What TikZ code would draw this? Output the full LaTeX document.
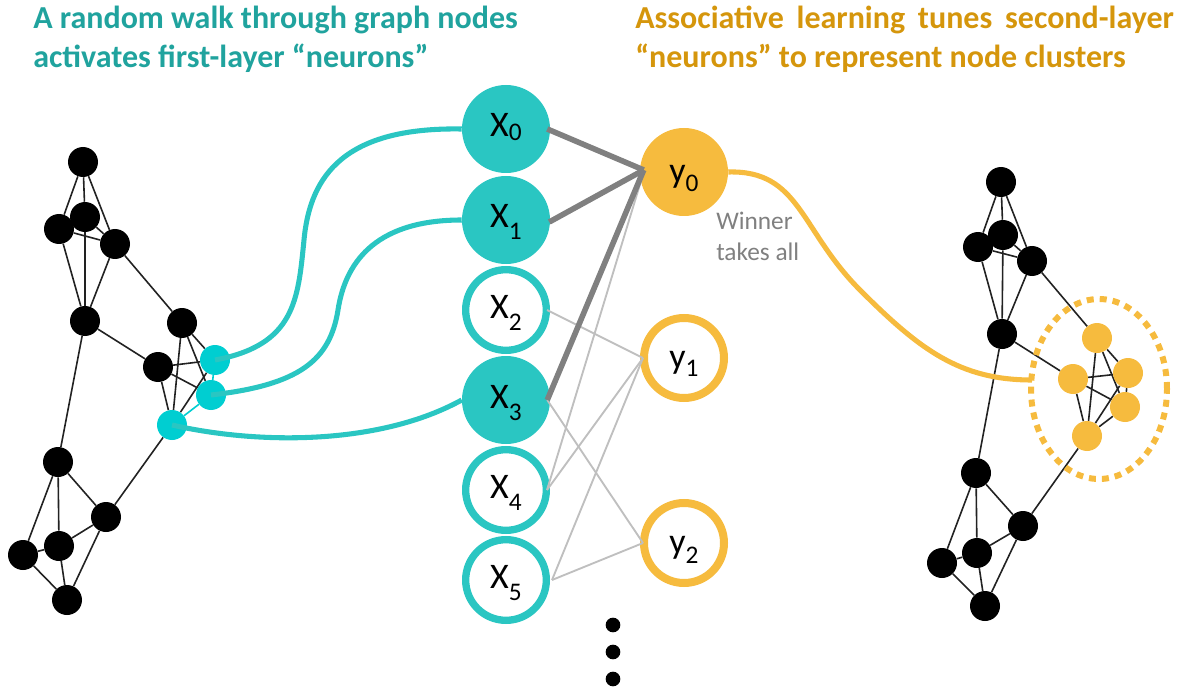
\documentclass[tikz,border=0pt]{standalone}
\usepackage{fontspec}
\setmainfont{Carlito}
\usetikzlibrary{calc}
\pgfdeclarelayer{bg}
\pgfsetlayers{bg,main}
\definecolor{tealT}{RGB}{32,163,158}
\definecolor{orangeT}{RGB}{213,150,12}
\definecolor{xfill}{RGB}{42,198,194}
\definecolor{cyanN}{RGB}{0,206,209}
\definecolor{ornN}{RGB}{246,187,62}
\definecolor{thickG}{RGB}{128,128,128}
\definecolor{thinG}{RGB}{191,191,191}
\definecolor{edgeK}{RGB}{34,34,34}
\newcommand\sbs[2]{\raisebox{-#1}{\fontsize{19}{19}\selectfont #2}}
\begin{document}
\begin{tikzpicture}[x=0.75pt,y=-0.75pt,
  gnode/.style={circle,fill=black,minimum size=22.5pt,inner sep=0pt},
  cnode/.style={gnode,fill=cyanN},
  onode/.style={gnode,fill=ornN},
  gedge/.style={draw=edgeK,line width=1.2pt},
  cedge/.style={draw=cyanN,line width=1.2pt},
  bigfont/.style={font=\fontsize{27}{27}\selectfont},
  xon/.style={circle,fill=xfill,minimum size=66pt,inner sep=0pt,bigfont,text height=17pt,text depth=5pt},
  xoff/.style={circle,draw=xfill,fill=white,line width=5.5pt,minimum size=60.5pt,inner sep=0pt,bigfont,text height=17pt,text depth=5pt},
  yon/.style={circle,fill=ornN,minimum size=66pt,inner sep=0pt,bigfont,text height=20pt,text depth=4pt},
  yoff/.style={circle,draw=ornN,fill=white,line width=6pt,minimum size=60pt,inner sep=0pt,bigfont,text height=20pt,text depth=4pt},
  thickw/.style={draw=thickG,line width=4.2pt},
  thinw/.style={draw=thinG,line width=1.4pt},
  ccurve/.style={draw=xfill,line width=3.8pt},
  ocurve/.style={draw=ornN,line width=3.8pt},
  dotn/.style={circle,fill=black,minimum size=11pt,inner sep=0pt},
  ttl/.style={anchor=base west,align=left,inner sep=0pt,font=\fontsize{24}{29.25}\selectfont\bfseries}
]
\useasboundingbox (0,0) rectangle (1182,688);

% titles (base anchor = last line)
\node[ttl,text=tealT] (t1) at (33,68) {A random walk through graph nodes\\activates first-layer “neurons”};
\node[ttl,text=orangeT] (t2) at (635,68) {\makebox[404pt][s]{Associative learning tunes second-layer}\\“neurons” to represent node clusters};

% left graph
\node[gnode] (L1) at (83,162) {};
\node[gnode] (L3) at (59,229) {};
\node[gnode] (L2) at (85,217) {};
\node[gnode] (L4) at (115,244) {};
\node[gnode] (L5) at (85,321) {};
\node[gnode] (L6) at (182,323) {};
\node[gnode] (L7) at (158,367) {};
\node[cnode] (L8) at (215,360) {};
\node[cnode] (L9) at (211,395) {};
\node[cnode] (L10) at (172,425) {};
\node[gnode] (L11) at (58,462) {};
\node[gnode] (L12) at (106,517) {};
\node[gnode] (L13) at (59,546) {};
\node[gnode] (L14) at (23,555) {};
\node[gnode] (L15) at (67,600) {};

% right graph
\node[gnode] (R1) at (1001,182) {};
\node[gnode] (R3) at (978,247) {};
\node[gnode] (R2) at (1003,235) {};
\node[gnode] (R4) at (1032,261) {};
\node[gnode] (R5) at (1002,334) {};
\node[onode] (R6) at (1097,338) {};
\node[onode] (R7) at (1073,379) {};
\node[onode] (R8) at (1128,373) {};
\node[onode] (R9) at (1125,407) {};
\node[onode] (R10) at (1087,436) {};
\node[gnode] (R11) at (976,473) {};
\node[gnode] (R12) at (1023,526) {};
\node[gnode] (R13) at (977,553) {};
\node[gnode] (R14) at (942,563) {};
\node[gnode] (R15) at (985,606) {};

\begin{pgfonlayer}{bg}
\foreach \a/\b in {1/3,1/2,1/4,2/4,3/4,3/5,2/5,4/5,4/6,5/7,5/11,6/10,6/9,6/8,7/8,7/9,7/10,10/8,10/12,11/12,11/13,11/14,12/13,12/15,13/14,13/15,14/15}{
  \draw[gedge] (L\a) -- (L\b);
  \draw[gedge] (R\a) -- (R\b);
}
\draw[cedge] (L10) -- (L9);
\draw[cedge] (L8) -- (L9);
\draw[gedge] (R10) -- (R9);
\draw[gedge] (R8) -- (R9);
\end{pgfonlayer}

% first layer
\node[xon] (x0) at (506,129) {X\sbs{3pt}{0}};
\node[xon] (x1) at (506,220) {X\sbs{9pt}{1}};
\node[xoff] (x2) at (506,310) {X\sbs{9pt}{2}};
\node[xon] (x3) at (506,400) {X\sbs{9pt}{3}};
\node[xoff] (x4) at (506,490) {X\sbs{9pt}{4}};
\node[xoff] (x5) at (506,580) {X\sbs{9pt}{5}};

% second layer
\node[yon] (y0) at (684,172) {y\sbs{7pt}{0}};
\node[yoff] (y1) at (684,358) {y\sbs{6pt}{1}};
\node[yoff] (y2) at (684,543) {y\sbs{7pt}{2}};

\node[dotn] (d1) at (613,625) {};
\node[dotn] (d2) at (613,652) {};
\node[dotn] (d3) at (613,679) {};

% walk curves
\draw[ccurve] (L8.center) .. controls (295,345) and (298,300) .. (304,240) .. controls (310,175) and (345,127) .. (x0.west);
\draw[ccurve] (L9.center) .. controls (300,385) and (330,360) .. (338,310) .. controls (346,258) and (380,220) .. (x1.west);
\draw[ccurve] (L10.center) .. controls (260,445) and (380,445) .. (x3.west);

% weights
\draw[thinw] ($(x2.east)+(-3,0)$) -- ($(y1.west)+(3,0)$);
\draw[thinw] ($(x3.east)+(-3,0)$) -- ($(y2.west)+(3,0)$);
\draw[thinw] ($(x4.east)+(-3,0)$) -- ($(y0.west)+(4,0)$);
\draw[thinw] ($(x4.east)+(-3,0)$) -- ($(y1.west)+(3,0)$);
\draw[thinw] ($(x5.east)+(2,0)$) -- ($(y1.west)+(3,0)$);
\draw[thinw] ($(x5.east)+(2,0)$) -- ($(y2.west)+(3,0)$);
\draw[thickw] ($(x0.east)+(-3,0)$) -- ($(y0.west)+(4,-2)$);
\draw[thickw] ($(x1.east)+(-1,2)$) -- ($(y0.west)+(4,-2)$);
\draw[thickw] ($(x3.east)+(-3,0)$) -- ($(y0.west)+(4,-2)$);

\node[anchor=base west,align=left,inner sep=0pt,text=thickG,font=\fontsize{19}{23.25}\selectfont] (win) at (716,260) {Winner\\takes all};

% cluster
\coordinate (oend) at (1032,380);
\draw[ocurve] (y0.east) .. controls (800,170) and (800,230) .. (860,290) .. controls (920,350) and (960,380) .. (oend);
\draw[ornN,line width=4.5pt,dash pattern=on 5.25pt off 4.5pt] (1099,389) ellipse [x radius=51pt,y radius=67.5pt];
\end{tikzpicture}
\end{document}
